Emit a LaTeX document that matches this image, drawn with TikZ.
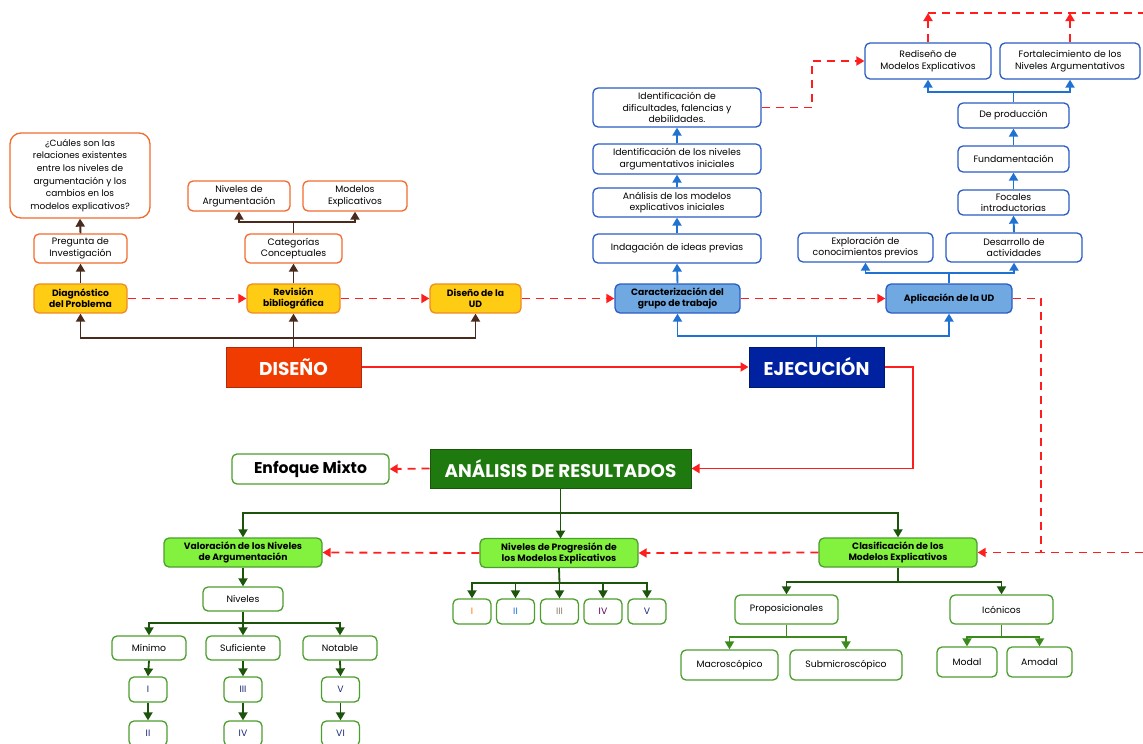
\documentclass[tikz,border=0pt]{standalone}
\usepackage{fontspec}
\setmainfont{Poppins}
\usetikzlibrary{arrows.meta}
\definecolor{orB}{HTML}{F26A2E}
\definecolor{yelF}{HTML}{FFCC14}
\definecolor{yelB}{HTML}{F08A24}
\definecolor{redF}{HTML}{F03C00}
\definecolor{redB}{HTML}{B02A10}
\definecolor{brn}{HTML}{4A2A1C}
\definecolor{bluB}{HTML}{2B5CC4}
\definecolor{bluA}{HTML}{1F72D2}
\definecolor{bluF}{HTML}{70A8E2}
\definecolor{navy}{HTML}{0022A0}
\definecolor{rdash}{HTML}{FF1E1E}
\definecolor{dgrF}{HTML}{1E7A0E}
\definecolor{dgrA}{HTML}{1C540C}
\definecolor{mgrA}{HTML}{3C8A1C}
\definecolor{lgrF}{HTML}{82F23E}
\definecolor{grB}{HTML}{4C9E2C}
\definecolor{numc}{HTML}{1A2A7A}
\newcommand\bx[7]{\node[#1,minimum width=#5pt,minimum height=#6pt] (#2) at (#3,#4) {#7};}
\begin{document}
\begin{tikzpicture}[x=1pt,y=-1pt,
  base/.style={rounded corners=5pt, line width=1.3pt, align=center, inner sep=1pt, font=\fontsize{9.3}{11.6}\selectfont},
  obox/.style={base, draw=orB, fill=white},
  ybox/.style={base, draw=yelB, fill=yelF, font=\bfseries\fontsize{9.2}{11.2}\selectfont},
  bbox/.style={base, draw=bluB, fill=white},
  bfbox/.style={base, draw=bluB, fill=bluF, font=\bfseries\fontsize{9.2}{11.2}\selectfont},
  gbox/.style={base, draw=grB, fill=white},
  lgbox/.style={base, draw=grB, fill=lgrF, font=\bfseries\fontsize{9.2}{11.2}\selectfont},
  bigbox/.style={draw, line width=1pt, text=white, font=\bfseries\fontsize{18.5}{20}\selectfont, inner sep=0pt},
  tip/.style={-{Triangle[width=9pt,length=8pt]}},
  bline/.style={draw=brn, line width=1.9pt},
  blu/.style={draw=bluA, line width=1.9pt},
  dg/.style={draw=dgrA, line width=1.8pt},
  mg/.style={draw=mgrA, line width=1.8pt},
  rd/.style={draw=rdash, line width=1.8pt, dash pattern=on 8pt off 6pt},
  rs/.style={draw=rdash, line width=1.8pt}
]
\useasboundingbox (0,0) rectangle (1143,744);
% ---------------- DISEÑO ----------------
\bx{obox,rounded corners=11pt,font=\fontsize{9}{12.6}\selectfont}{q}{80}{175.5}{140}{85}{¿Cuáles son las\\relaciones existentes\\entre los niveles de\\argumentación y los\\cambios en los\\modelos explicativos?}
\bx{obox}{preg}{80.5}{248.5}{93}{29}{Pregunta de\\Investigación}
\bx{ybox}{diag}{80.5}{298.5}{93}{29}{Diagnóstico\\del Problema}
\bx{ybox}{rev}{293.5}{298.5}{93}{29}{Revisión\\bibliográfica}
\bx{obox}{cat}{293.5}{248.5}{97}{29}{Categorías\\Conceptuales}
\bx{obox}{nivA}{239}{196}{102}{30}{Niveles de\\Argumentación}
\bx{obox}{modE}{355}{196}{104}{30}{Modelos\\Explicativos}
\bx{ybox}{dUD}{475.5}{298.5}{91}{29}{Diseño de la\\UD}
\bx{bigbox,draw=redB,fill=redF}{dis}{293.5}{367}{135}{40}{DISEÑO}
% ---------------- EJECUCIÓN ----------------
\bx{bfbox}{car}{677.5}{298.5}{125}{29}{Caracterización del\\grupo de trabajo}
\bx{bfbox}{apl}{949}{298.5}{126}{29}{Aplicación de la UD}
\bx{bigbox,draw=navy!70!black,fill=navy}{eje}{816.5}{367}{135}{40}{EJECUCIÓN}
\bx{bbox}{indag}{677}{248.5}{168}{29}{Indagación de ideas previas}
\bx{bbox}{anmod}{677}{202.5}{168}{29}{Análisis de los modelos\\explicativos iniciales}
\bx{bbox}{idniv}{677}{159}{168}{30}{Identificación de los niveles\\argumentativos iniciales}
\bx{bbox}{iddif}{677}{107.5}{168}{39}{Identificación de\\dificultades, falencias y\\debilidades.}
\bx{bbox}{explo}{865.5}{247.5}{135}{29}{Exploración de\\conocimientos previos}
\bx{bbox}{desa}{1014}{247.5}{136}{29}{Desarrollo de\\actividades}
\bx{bbox}{focal}{1013.5}{202.5}{111}{25}{Focales\\introductorias}
\bx{bbox}{fund}{1013.5}{159}{111}{26}{Fundamentación}
\bx{bbox}{prod}{1013.5}{115.5}{111}{25}{De producción}
\bx{bbox}{redis}{928}{61}{126}{36}{Rediseño de\\Modelos Explicativos}
\bx{bbox}{fort}{1070}{61}{140}{36}{Fortalecimiento de los\\Niveles Argumentativos}
% ---------------- ANÁLISIS ----------------
\bx{bigbox,draw=dgrA,fill=dgrF,font=\bfseries\fontsize{18.3}{20}\selectfont}{anal}{560.5}{468.5}{261}{39}{ANÁLISIS DE RESULTADOS}
\bx{gbox,font=\bfseries\fontsize{15.6}{17}\selectfont}{enf}{310.5}{469}{157}{30}{Enfoque Mixto}
\bx{lgbox}{val}{243}{552.5}{158}{29}{Valoración de los Niveles\\de Argumentación}
\bx{lgbox}{prog}{559}{553}{158}{29}{Niveles de Progresión de\\los Modelos Explicativos}
\bx{lgbox}{clas}{898}{552.5}{158}{29}{Clasificación de los\\Modelos Explicativos}
\bx{gbox}{niv}{243}{599}{80}{24}{Niveles}
\bx{gbox}{mini}{149}{648}{74}{24}{Mínimo}
\bx{gbox}{suf}{243}{648}{74}{24}{Suficiente}
\bx{gbox}{nota}{340}{648}{74}{24}{Notable}
\bx{gbox,text=numc}{r1}{148}{689.5}{38}{25}{I}
\bx{gbox,text=numc}{r2}{148}{733.5}{38}{25}{II}
\bx{gbox,text=numc}{r3}{243}{689.5}{38}{25}{III}
\bx{gbox,text=numc}{r4}{243}{733.5}{38}{25}{IV}
\bx{gbox,text=numc}{r5}{340.5}{689.5}{38}{25}{V}
\bx{gbox,text=numc}{r6}{340.5}{733.5}{38}{25}{VI}
\bx{gbox,text=orange!90!red}{p1}{472}{611.5}{38}{25}{I}
\bx{gbox,text=bluA}{p2}{515.5}{611.5}{38}{25}{II}
\bx{gbox,text=gray!80!brown}{p3}{559.5}{611.5}{38}{25}{III}
\bx{gbox,text=violet!80!black}{p4}{603}{611.5}{38}{25}{IV}
\bx{gbox,text=numc}{p5}{647}{611.5}{38}{25}{V}
\bx{gbox}{prop}{786.5}{609.5}{103}{29}{Proposicionales}
\bx{gbox}{icon}{1001.5}{609.5}{103}{29}{Icónicos}
\bx{gbox}{macro}{729.5}{665}{97}{30}{Macroscópico}
\bx{gbox}{submi}{846}{665}{112}{30}{Submicroscópico}
\bx{gbox}{modal}{967}{662}{60}{30}{Modal}
\bx{gbox}{amodal}{1039.5}{662}{65}{30}{Amodal}
% ---------------- brown connectors ----------------
\coordinate (bj) at (293.5,338);
\draw[bline,tip] (dis.north) -- (rev.south);
\draw[bline,tip] (bj) -| (diag.south);
\draw[bline,tip] (bj) -| (dUD.south);
\draw[bline,tip] (diag.north) -- (preg.south);
\draw[bline,tip] (preg.north) -- (q.south);
\draw[bline,tip] (rev.north) -- (cat.south);
\coordinate (cj) at (293.5,222);
\draw[bline] (cat.north) -- (cj);
\draw[bline,tip] (cj) -| (nivA.south);
\draw[bline,tip] (cj) -| (modE.south);
% ---------------- blue connectors ----------------
\coordinate (ej) at (816.5,336);
\draw[blu] (eje.north) -- (ej);
\draw[blu,tip] (ej) -| (car.south);
\draw[blu,tip] (ej) -| (apl.south);
\draw[blu,tip] (car.north) -- (indag.south);
\draw[blu,tip] (indag.north) -- (anmod.south);
\draw[blu,tip] (anmod.north) -- (idniv.south);
\draw[blu,tip] (idniv.north) -- (iddif.south);
\coordinate (aj) at (949,273);
\draw[blu] (apl.north) -- (aj);
\draw[blu,tip] (aj) -| (explo.south);
\draw[blu,tip] (aj) -| (desa.south);
\draw[blu,tip] (desa.north) -- (focal.south);
\draw[blu,tip] (focal.north) -- (fund.south);
\draw[blu,tip] (fund.north) -- (prod.south);
\coordinate (pj) at (1013.5,92);
\draw[blu] (prod.north) -- (pj);
\draw[blu,tip] (pj) -| (redis.south);
\draw[blu,tip] (pj) -| (fort.south);
% ---------------- red connectors ----------------
\draw[rd,tip] (diag.east) -- (rev.west);
\draw[rd,tip] (rev.east) -- (dUD.west);
\draw[rd,tip] (dUD.east) -- (car.west);
\draw[rd,tip] (car.east) -- (apl.west);
\coordinate (ad) at (1041,552.5);
\coordinate (re) at (1143,552.5);
\draw[rd,tip] (apl.east) -| (ad) -- (clas.east);
\draw[rd] (re) -- (ad);
\draw[rd,tip] (iddif.east) -- (812,107.5) |- (redis.west);
\coordinate (t1) at (928,13);
\coordinate (t2) at (1070,13);
\coordinate (te) at (1143,13);
\draw[rd,tip] (redis.north) -- (t1);
\draw[rd,tip] (fort.north) -- (t2);
\draw[rd] (t1) -- (te);
\draw[rs,tip] (dis.east) -- (eje.west);
\draw[rs,tip] (eje.east) -- (913,367) |- (anal.east);
\draw[rd,tip] (anal.west) -- (enf.east);
\draw[rd,tip] (clas.west) -- (prog.east);
\draw[rd,tip] (prog.west) -- (val.east);
% ---------------- green connectors ----------------
\coordinate (gj) at (560.5,513);
\draw[dg] (anal.south) -- (gj);
\draw[dg,tip] (gj) -| (val.north);
\draw[dg,tip] (gj) -| (clas.north);
\draw[dg,tip] (gj) -- (560.5,538.5);
\draw[dg,tip] (val.south) -- (niv.north);
\coordinate (nj) at (243,623);
\draw[dg] (niv.south) -- (nj);
\draw[dg,tip] (nj) -| (mini.north);
\draw[dg,tip] (nj) -| (nota.north);
\draw[dg,tip] (nj) -- (suf.north);
\draw[dg,tip] (mini.south) -- (r1.north);
\draw[dg,tip] (r1.south) -- (r2.north);
\draw[dg,tip] (suf.south) -- (r3.north);
\draw[dg,tip] (r3.south) -- (r4.north);
\draw[dg,tip] (nota.south) -- (r5.north);
\draw[dg,tip] (r5.south) -- (r6.north);
\coordinate (qj) at (559.5,583);
\draw[dg] (prog.south) -- (qj);
\draw[dg,tip] (qj) -| (p1.north);
\draw[dg,tip] (qj) -| (p2.north);
\draw[dg,tip] (qj) -- (p3.north);
\draw[dg,tip] (qj) -| (p4.north);
\draw[dg,tip] (qj) -| (p5.north);
\coordinate (cl) at (898,582);
\draw[dg] (clas.south) -- (cl);
\draw[dg,tip] (cl) -| (prop.north);
\draw[dg,tip] (cl) -| (icon.north);
\coordinate (pr) at (786.5,637);
\draw[mg] (prop.south) -- (pr);
\draw[mg,tip] (pr) -| (macro.north);
\draw[mg,tip] (pr) -| (submi.north);
\coordinate (ic) at (1001.5,637);
\draw[mg] (icon.south) -- (ic);
\draw[mg,tip] (ic) -| (modal.north);
\draw[mg,tip] (ic) -| (amodal.north);
\end{tikzpicture}
\end{document}
